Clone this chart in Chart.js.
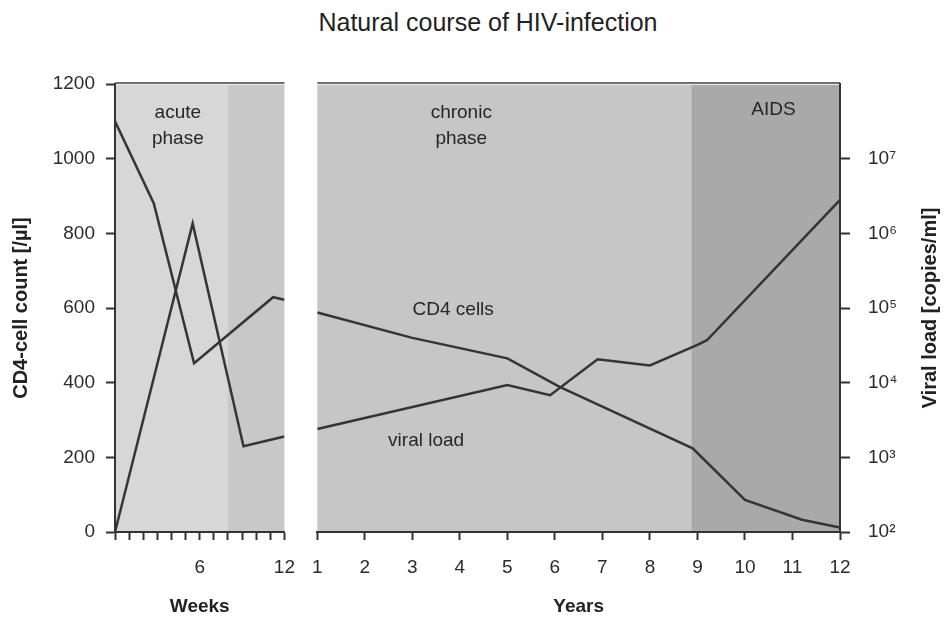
<!DOCTYPE html>
<html lang="en">
<head>
  <meta charset="UTF-8">
  <title>Natural course of HIV-infection</title>
  <script src="https://cdn.jsdelivr.net/npm/chart.js"></script>
  <style>
    body { margin: 0; background: #fff; }
    .pagina { position: relative; width: 948px; height: 618px; font-family: "Liberation Sans", Arial, sans-serif; }
    .titulo { position: absolute; left: 0; top: 8px; width: 948px; padding-left: 28px; box-sizing: border-box;
              text-align: center; font-size: 25px; line-height: 29px; color: #222; }
    /* the two canvases overlap a little: the x tick labels reserve some room at the sides */
    #graficoSemanas { position: absolute; left: 0; top: 0; }
    #graficoAnios { position: absolute; left: 296px; top: 0; }
  </style>
</head>
<body>
  <div class="pagina">
    <div class="titulo">Natural course of HIV-infection</div>
    <canvas id="graficoSemanas" width="311" height="618"></canvas>
    <canvas id="graficoAnios" width="652" height="618"></canvas>
  </div>

  <script>
    // acute phase, in weeks
    const weeksCd4 = [0, 2.75, 5.6, 11.2, 12];
    const cd4Weeks = [1100, 880, 452, 629, 622];
    const weeksViral = [0, 5.5, 9.1, 12];
    const viralWeeks = [100, 1360000, 1410, 1900];

    // chronic phase + AIDS, in years
    const yearsCd4 = [1, 3, 5, 6.1, 8.9, 10, 11.2, 12];
    const cd4Years = [588, 520, 465, 389, 224, 86, 33, 12];
    const yearsViral = [1, 5, 5.9, 6.9, 8, 9, 9.2, 12];
    const viralYears = [2400, 9300, 6800, 20600, 17000, 32000, 37000, 2800000];

    // phase limits
    const weekPhases = [0, 8, 12];
    const yearPhases = [1, 8.87, 12];

    // ticks
    const weekTicks = [0, 1, 2, 3, 4, 5, 6, 7, 8, 9, 10, 11, 12];
    const weekTickLabels = [6, 12];
    const yearTicks = [1, 2, 3, 4, 5, 6, 7, 8, 9, 10, 11, 12];
    const cd4Ticks = [0, 200, 400, 600, 800, 1000, 1200];
    const viralTicks = [1e2, 1e3, 1e4, 1e5, 1e6, 1e7];

    const fuente = '"Liberation Sans", Arial, sans-serif';
    const colorLinea = '#353535';
    const colorEje = '#333';
    const sup = { 2: '²', 3: '³', 4: '⁴', 5: '⁵', 6: '⁶', 7: '⁷', 8: '⁸' };

    const puntos = (xs, ys) => xs.map((x, i) => ({ x: x, y: ys[i] }));

    const fondoFases = {
      id: 'fondoFases',
      beforeDraw(chart, args, opts) {
        const { ctx, chartArea: a, scales: { x } } = chart;
        ctx.save();
        opts.edges.slice(0, -1).forEach((desde, i) => {
          const x0 = x.getPixelForValue(desde);
          const x1 = x.getPixelForValue(opts.edges[i + 1]);
          ctx.fillStyle = opts.colors[i];
          ctx.fillRect(x0, a.top, x1 - x0, a.bottom - a.top);
        });
        ctx.fillStyle = '#707070';
        ctx.fillRect(a.left, a.top - 2, a.right - a.left, 2);
        ctx.fillStyle = '#ececec';
        ctx.fillRect(a.left, a.top, a.right - a.left, 1);
        ctx.restore();
      }
    };

    const textos = {
      id: 'textos',
      afterDraw(chart, args, opts) {
        const { ctx, scales } = chart;
        ctx.save();
        ctx.font = '19px ' + fuente;
        ctx.fillStyle = '#262626';
        ctx.textAlign = 'center';
        ctx.textBaseline = 'middle';
        opts.items.forEach(t => {
          const px = scales.x.getPixelForValue(t.x);
          const py = scales.yCd4.getPixelForValue(t.y);
          t.text.split('\n').forEach((linea, i) => ctx.fillText(linea, px, py + i * 26));
        });
        if (opts.rightTitle) {
          const s = scales.yVl;
          ctx.font = 'bold 20px ' + fuente;
          ctx.fillStyle = '#222';
          ctx.translate(s.right - 18, (chart.chartArea.top + chart.chartArea.bottom) / 2);
          ctx.rotate(-Math.PI / 2);
          ctx.fillText(opts.rightTitle, 0, 0);
        }
        ctx.restore();
      }
    };

    const ejeX = (min, max, ticks, etiqueta, titulo) => ({
      type: 'linear', min: min, max: max,
      afterBuildTicks: s => { s.ticks = ticks.map(v => ({ value: v })); },
      ticks: { callback: etiqueta, font: { family: fuente, size: 19 }, color: '#2b2b2b', padding: 16, maxRotation: 0, autoSkip: false },
      grid: { drawOnChartArea: false, tickLength: 8, tickWidth: 2, tickColor: colorEje },
      border: { color: colorEje, width: 2 },
      title: { display: true, text: titulo, font: { family: fuente, size: 19, weight: 'bold' }, color: '#222', padding: { top: 0, bottom: 0 } },
      afterFit: s => { s.height = 86; }
    });

    const ejeCd4 = visible => ({
      type: 'linear', min: 0, max: 1200, position: 'left', display: visible,
      afterBuildTicks: s => { s.ticks = cd4Ticks.map(v => ({ value: v })); },
      ticks: { callback: v => String(v), font: { family: fuente, size: 19 }, color: '#2b2b2b', padding: 11 },
      grid: { drawOnChartArea: false, tickLength: 9, tickWidth: 2, tickColor: colorEje },
      border: { color: colorEje, width: 2 },
      title: { display: true, text: 'CD4-cell count [/µl]', font: { family: fuente, size: 20, weight: 'bold' }, color: '#222', padding: { top: 9, bottom: 0 } },
      afterFit: s => { if (visible) s.width = 115; }
    });

    const ejeViral = visible => ({
      type: 'logarithmic', min: 100, max: 1e8, position: 'right', display: visible,
      afterBuildTicks: s => { s.ticks = viralTicks.map(v => ({ value: v })); },
      ticks: { callback: v => '10' + sup[Math.round(Math.log10(v))], font: { family: fuente, size: 19 }, color: '#2b2b2b', padding: 18 },
      grid: { drawOnChartArea: false, tickLength: 10, tickWidth: 2, tickColor: colorEje },
      border: { color: colorEje, width: 2 },
      afterFit: s => { if (visible) s.width = 108; }
    });

    const serie = (label, data, eje) => ({
      label: label, data: data, yAxisID: eje,
      borderColor: colorLinea, borderWidth: 2.5, pointRadius: 0, tension: 0, fill: false
    });

    const comunes = {
      responsive: false,
      animation: false,
      plugins: { legend: { display: false }, tooltip: { enabled: false } }
    };

    new Chart(document.getElementById('graficoSemanas'), {
      type: 'line',
      data: {
        datasets: [
          serie('CD4 cells', puntos(weeksCd4, cd4Weeks), 'yCd4'),
          serie('viral load', puntos(weeksViral, viralWeeks), 'yVl')
        ]
      },
      options: {
        ...comunes,
        layout: { padding: { top: 84, right: 0, bottom: 0, left: 0 } },
        scales: {
          x: ejeX(0, 12, weekTicks, v => weekTickLabels.includes(v) ? String(v) : '', 'Weeks'),
          yCd4: ejeCd4(true),
          yVl: ejeViral(false)
        },
        plugins: {
          ...comunes.plugins,
          fondoFases: { edges: weekPhases, colors: ['#d7d7d7', '#c8c8c8'] },
          textos: { items: [{ text: 'acute\nphase', x: 4.45, y: 1122 }] }
        }
      },
      plugins: [fondoFases, textos]
    });

    new Chart(document.getElementById('graficoAnios'), {
      type: 'line',
      data: {
        datasets: [
          serie('CD4 cells', puntos(yearsCd4, cd4Years), 'yCd4'),
          serie('viral load', puntos(yearsViral, viralYears), 'yVl')
        ]
      },
      options: {
        ...comunes,
        layout: { padding: { top: 84, right: 0, bottom: 0, left: 0 } },
        scales: {
          x: ejeX(1, 12, yearTicks, v => String(v), 'Years'),
          yCd4: ejeCd4(false),
          yVl: ejeViral(true)
        },
        plugins: {
          ...comunes.plugins,
          fondoFases: { edges: yearPhases, colors: ['#c6c6c6', '#a9a9a9'] },
          textos: {
            items: [
              { text: 'chronic\nphase', x: 4.03, y: 1122 },
              { text: 'AIDS', x: 10.6, y: 1130 },
              { text: 'CD4 cells', x: 3.86, y: 595 },
              { text: 'viral load', x: 3.29, y: 244 }
            ],
            rightTitle: 'Viral load [copies/ml]'
          }
        }
      },
      plugins: [fondoFases, textos]
    });
  </script>
</body>
</html>
